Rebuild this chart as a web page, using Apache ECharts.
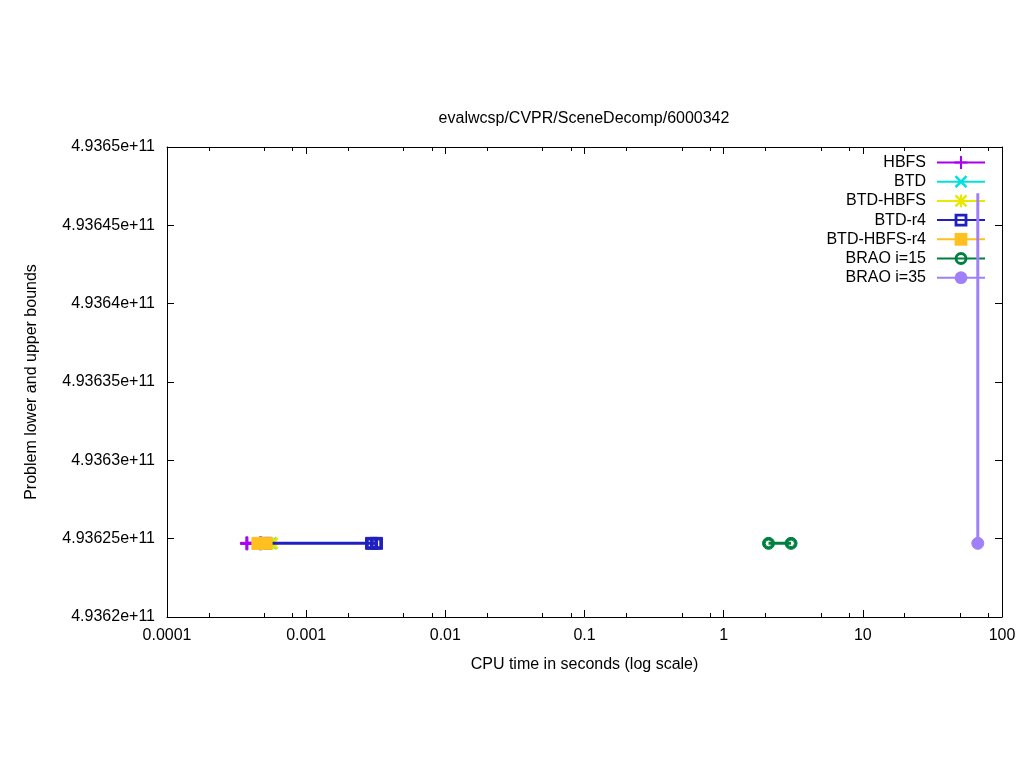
<!DOCTYPE html>
<html><head><meta charset="utf-8">
<script src="https://cdn.jsdelivr.net/npm/echarts@6/dist/echarts.min.js"></script>
<style>html,body{margin:0;padding:0;background:#fff}#c{width:1024px;height:768px}</style>
</head><body><div id="c"></div>
<script>
// ---- data ----
const seriesNames = ["HBFS","BTD","BTD-HBFS","BTD-r4","BTD-HBFS-r4","BRAO i=15","BRAO i=35"];
const hbfs      = [[0.000375, 493624700000],[0.00047, 493624700000]];
const btd       = [[0.00056, 493624700000]];
const btdHbfs   = [[0.00057, 493624700000]];
const btdR4     = [[0.00051, 493624700000],[0.00295, 493624700000],[0.0032, 493624700000]];
const btdHbfsR4 = [[0.00045, 493624700000],[0.000515, 493624700000]];
const brao15    = [[2.1, 493624700000],[3.05, 493624700000]];
const brao35Upper = [67, 493647050000];
const brao35Lower = [67, 493624700000];
const xTicks = [0.0001, 0.001, 0.01, 0.1, 1, 10, 100];
const xMinorTicks = [];
for (let d = -4; d < 2; d++) { for (const m of [2,5,8]) xMinorTicks.push(m * Math.pow(10, d)); }
const yMin = 493620000000, yMax = 493650000000, yStep = 5000000;

const FONT = "'Liberation Sans', Arial, sans-serif";
const FS = 16;
const colors = ["#a800f0","#00e0e0","#e8e800","#2020c0","#ffc020","#008040","#a080f8"];

const PLUS = 'path://M4.2,0H5.8V10H4.2Z M0,4.2H10V5.8H0Z';
const XS = 'path://M0,1.4L1.4,0L5,3.6L8.6,0L10,1.4L6.4,5L10,8.6L8.6,10L5,6.4L1.4,10L0,8.6L3.6,5Z';
const STAR = 'path://M0,1.4L1.4,0L5,3.6L8.6,0L10,1.4L6.4,5L10,8.6L8.6,10L5,6.4L1.4,10L0,8.6L3.6,5Z M4.2,0H5.8V10H4.2Z M0,4.2H10V5.8H0Z';
const HSQ = 'path://M0,0H10V10H0Z M2.2,2.2V7.8H7.8V2.2Z';
const HCIRC = 'path://M5,0A5,5 0 1,1 5,10A5,5 0 1,1 5,0Z M5,2.2A2.8,2.8 0 1,0 5,7.8A2.8,2.8 0 1,0 5,2.2Z';

function fmtX(v){ return v >= 1 ? String(Math.round(v)) : Number(v.toPrecision(1)).toString(); }
function fmtY(v){ return Number((v/1e11).toPrecision(8)).toString() + 'e+11'; }

function mk(i, data, symbol, size, extra){
  return Object.assign({
    name: seriesNames[i], type: 'line', data: data, xAxisIndex: 0, yAxisIndex: 0,
    symbol: symbol, symbolSize: size, showAllSymbol: true,
    lineStyle: {color: colors[i], width: 3},
    itemStyle: {color: colors[i], borderColor: colors[i]},
    emphasis: {disabled: true}, animation: false, z: 2 + i
  }, extra || {});
}

const series = [
  mk(0, hbfs, PLUS, 13),
  mk(1, btd, XS, 12),
  mk(2, btdHbfs, STAR, 12),
  mk(3, btdR4, HSQ, 12),
  mk(4, btdHbfsR4, 'rect', 12),
  mk(5, brao15, HCIRC, 12),
  mk(6, [{value: brao35Upper, symbol: 'none'}, {value: brao35Lower}], 'circle', 12)
];

const axisLine = {show: true, lineStyle: {color: '#000', width: 1}};
const chart = echarts.init(document.getElementById('c'), null, {renderer: 'canvas'});
chart.setOption({
  animation: false,
  textStyle: {fontFamily: FONT},
  grid: {left: 167, right: 22, top: 147, bottom: 151, containLabel: false},
  graphic: [{type: 'text', x: 584, y: 111, style: {text: 'evalwcsp/CVPR/SceneDecomp/6000342', font: FS + 'px ' + FONT, fill: '#000', textAlign: 'center'}}],
  legend: {
    orient: 'vertical', right: 38, top: 154.5, align: 'right', padding: 0,
    itemWidth: 48, itemHeight: 16, itemGap: 3.2,
    textStyle: {fontFamily: FONT, fontSize: FS, lineHeight: 16, color: '#000', padding: [0, 6, 0, 0]},
    data: seriesNames
  },
  xAxis: [
    {type: 'log', logBase: 10, min: 0.0001, max: 100, position: 'bottom',
     name: 'CPU time in seconds (log scale)', nameLocation: 'middle', nameGap: 40,
     nameTextStyle: {fontFamily: FONT, fontSize: FS, color: '#000'},
     axisLine: axisLine, axisTick: {inside: true, length: 7, lineStyle: {color: '#000'}, customValues: xTicks},
     axisLabel: {customValues: xTicks, formatter: fmtX, fontFamily: FONT, fontSize: FS, color: '#000', margin: 11},
     splitLine: {show: false}, minorTick: {show: false}},
    {type: 'log', logBase: 10, min: 0.0001, max: 100, position: 'top',
     axisLine: axisLine, axisTick: {inside: true, length: 7, lineStyle: {color: '#000'}, customValues: xTicks},
     axisLabel: {show: false}, splitLine: {show: false}},
    {type: 'log', logBase: 10, min: 0.0001, max: 100, position: 'bottom',
     axisLine: {show: false}, axisTick: {inside: true, length: 4, lineStyle: {color: '#000'}, customValues: xMinorTicks},
     axisLabel: {show: false}, splitLine: {show: false}},
    {type: 'log', logBase: 10, min: 0.0001, max: 100, position: 'top',
     axisLine: {show: false}, axisTick: {inside: true, length: 4, lineStyle: {color: '#000'}, customValues: xMinorTicks},
     axisLabel: {show: false}, splitLine: {show: false}}
  ],
  yAxis: [
    {type: 'value', min: yMin, max: yMax, interval: yStep, position: 'left',
     name: 'Problem lower and upper bounds', nameLocation: 'middle', nameGap: 127, nameRotate: 90,
     nameTextStyle: {fontFamily: FONT, fontSize: FS, color: '#000'},
     axisLine: axisLine, axisTick: {inside: true, length: 7, lineStyle: {color: '#000'}},
     axisLabel: {formatter: fmtY, fontFamily: FONT, fontSize: FS, color: '#000', margin: 12},
     splitLine: {show: false}},
    {type: 'value', min: yMin, max: yMax, interval: yStep, position: 'right',
     axisLine: axisLine, axisTick: {inside: true, length: 7, lineStyle: {color: '#000'}},
     axisLabel: {show: false}, splitLine: {show: false}}
  ],
  series: series
});
</script>
</body></html>
